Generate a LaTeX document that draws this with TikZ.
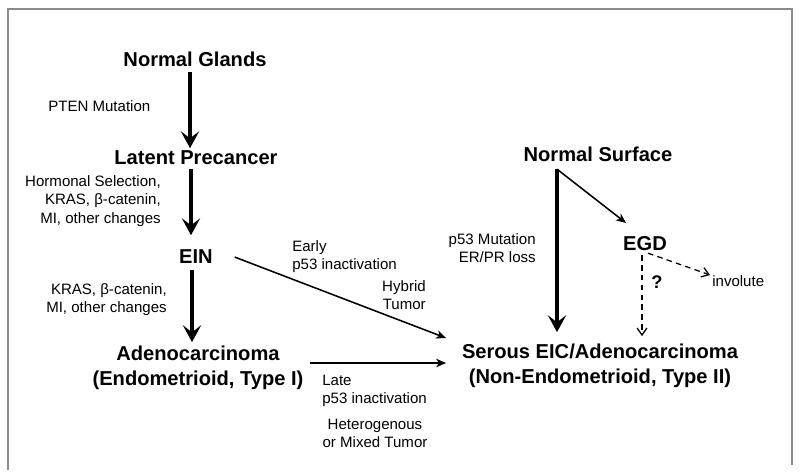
\documentclass[tikz,border=0pt]{standalone}
\usepackage{fontspec}
\setmainfont{Liberation Sans}
\usepackage{tikz}
\usetikzlibrary{arrows.meta}
\usetikzlibrary{calc}
\definecolor{framegray}{rgb}{0.55,0.55,0.55}

\begin{document}
\begin{tikzpicture}[x=0.025cm,y=-0.025cm,
  stage/.style={font=\fontsize{14.3}{17.8}\selectfont\bfseries,align=center},
  note/.style={font=\fontsize{10.7}{12.9}\selectfont,inner sep=0pt},
  thickarrow/.style={line width=2.4pt,-{Stealth[length=12pt,width=13pt,inset=5pt]}},
  thinarrow/.style={line width=1.1pt,-{Stealth[length=7pt,width=6pt,inset=2pt]}},
  dasharrow/.style={line width=0.9pt,dash pattern=on 4pt off 3pt,-{Straight Barb[length=5pt,width=7pt]}}]

  \useasboundingbox (0,0) rectangle (800,472);
  \draw [framegray,line width=0.8pt] (8,470) -- (8,9) -- (792,9) -- (792,465);

  % stages
  \node [stage,anchor=base] (glands) at (195,67) {Normal Glands};
  \node [stage,anchor=base] (latent) at (196,164) {Latent Precancer};
  \node [stage,anchor=base] (ein) at (196,263) {EIN};
  \node [stage] (adeno) at (198,368) {Adenocarcinoma\\(Endometrioid, Type I)};
  \node [stage,anchor=base] (surface) at (598,161) {Normal Surface};
  \node [stage,anchor=base] (egd) at (645,250) {EGD};
  \node [stage] (serous) at (600,366) {Serous EIC/Adenocarcinoma\\(Non-Endometrioid, Type II)};
  \node [font=\fontsize{13}{15}\selectfont\bfseries] (query) at (657,282) {?};

  % notes
  \node [note,anchor=west] (pten) at (48,106) {PTEN Mutation};
  \node [note,anchor=east,align=right] (hormonal) at (161,201) {Hormonal Selection,\\KRAS, β-catenin,\\MI, other changes};
  \node [note,anchor=east,align=right] (kras) at (167,300) {KRAS, β-catenin,\\MI, other changes};
  \node [note,anchor=west,align=left] (early) at (292,257) {Early\\p53 inactivation};
  \node [note,anchor=east,align=right] (hybrid) at (426,295) {Hybrid\\Tumor};
  \node [note,anchor=west,align=left] (late) at (322,391) {Late\\p53 inactivation};
  \node [note,align=center] (mixed) at (375,433) {Heterogenous\\or Mixed Tumor};
  \node [note,anchor=east,align=right] (p53mut) at (536,248) {p53 Mutation\\ER/PR loss};
  \node [note,anchor=west] (involute) at (712,281) {involute};

  % connectors
  \draw [thickarrow] ($(glands.south)+(-5,0)$) -- ($(glands.south |- latent.north)+(-5,3)$);
  \draw [thickarrow] ($(latent.south)+(-5,0)$) -- ($(latent.south |- ein.north)+(-5,-9)$);
  \draw [thickarrow] ($(ein.south)+(-4,2)$) -- ($(ein.south |- adeno.north)+(-4,1)$);
  \draw [thinarrow] ($(ein.east)+(17,1)$) -- ($(serous.west)+(-11,-28)$);
  \draw [thinarrow] ($(adeno.east)+(2,-5)$) -- ($(serous.west)+(-11,-3)$);
  \coordinate (fork) at ($(surface.south)+(-41,3)$);
  \draw [thinarrow] (fork) -- ($(egd.north)+(-19,-8)$);
  \draw [thickarrow] (fork) -- ($(fork |- serous.north)+(0,-7)$);
  \draw [dasharrow] ($(egd.south)+(-3,0)$) -- ($(egd.south |- serous.north)+(-3,-3)$);
  \draw [dasharrow] ($(egd.south)+(3,-2)$) -- ($(involute.west)+(-2,-6)$);

\end{tikzpicture}
\end{document}
